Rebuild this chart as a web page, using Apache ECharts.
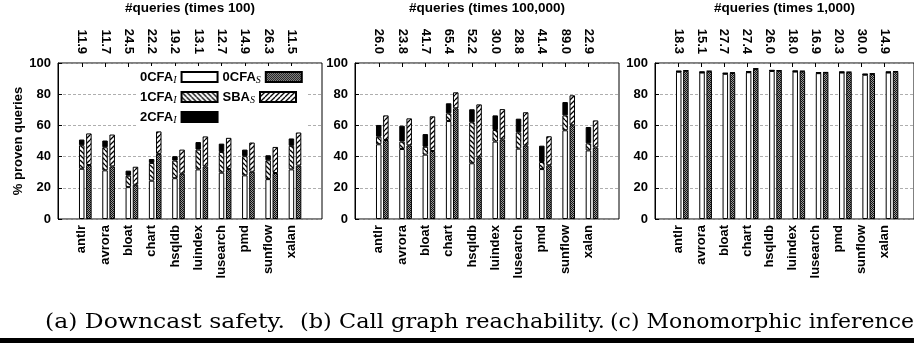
<!DOCTYPE html>
<html><head><meta charset="utf-8">
<script src="https://cdn.jsdelivr.net/npm/echarts@6/dist/echarts.min.js"></script>
<style>html,body{margin:0;padding:0;background:#fff}#c{width:914px;height:343px}</style>
</head><body><div id="c"></div>
<script>
const categories = ['antlr','avrora','bloat','chart','hsqldb','luindex','lusearch','pmd','sunflow','xalan'];
const queriesA = ['11.9','11.7','24.5','22.2','19.2','13.1','12.7','14.9','26.3','11.5'];
const queriesB = ['26.0','23.8','41.7','65.4','52.2','30.0','28.8','41.4','89.0','22.9'];
const queriesC = ['18.3','15.1','27.7','27.4','26.0','18.0','16.9','20.3','30.0','14.9'];
const seriesNames = ['0CFA_I','1CFA_I','2CFA_I','0CFA_S','SBA_S'];
const legendOrder = ['0CFA_I','0CFA_S','1CFA_I','SBA_S','2CFA_I'];

// (a) Downcast safety (stack increments)
const a_0CFA_I = [32.0, 31.0, 20.3, 24.4, 26.0, 31.6, 29.5, 27.8, 25.4, 31.6];
const a_1CFA_I = [15.0, 14.7, 7.3, 11.3, 11.2, 12.6, 13.2, 12.2, 12.0, 15.0];
const a_2CFA_I = [3.6, 4.3, 3.2, 2.5, 2.8, 4.8, 5.3, 4.2, 3.2, 4.7];
const a_0CFA_S = [34.4, 33.5, 21.8, 41.5, 28.8, 33.5, 31.8, 30.1, 29.3, 34.0];
const a_SBA_S  = [20.1, 20.3, 11.5, 14.3, 15.4, 19.1, 19.9, 18.6, 16.6, 21.1];
// (b) Call graph reachability
const b_0CFA_I = [47.6, 44.6, 41.0, 62.4, 35.5, 49.3, 44.8, 31.8, 56.5, 43.7];
const b_1CFA_I = [4.8, 4.7, 5.0, 4.9, 26.1, 7.4, 10.4, 4.5, 9.5, 4.5];
const b_2CFA_I = [7.5, 10.1, 8.1, 6.4, 8.3, 9.3, 8.7, 10.4, 8.5, 10.4];
const b_0CFA_S = [50.3, 46.9, 43.3, 70.5, 39.3, 50.7, 46.9, 34.2, 59.7, 45.6];
const b_SBA_S  = [15.7, 17.2, 22.1, 10.2, 33.7, 19.3, 21.1, 18.5, 19.1, 17.2];
// (c) Monomorphic inference
const c_0CFA_I = [93.8, 93.3, 92.5, 93.5, 94.3, 93.9, 92.9, 93.3, 91.9, 93.3];
const c_1CFA_I = [0.2, 0.2, 0.2, 0.2, 0.2, 0.2, 0.2, 0.2, 0.2, 0.2];
const c_2CFA_I = [0.3, 0.3, 0.3, 0.3, 0.3, 0.3, 0.3, 0.3, 0.3, 0.3];
const c_0CFA_S = [94.4, 94.0, 93.0, 95.6, 94.4, 94.0, 93.2, 93.4, 92.4, 93.8];
const c_SBA_S  = [0.3, 0.3, 0.3, 0.3, 0.3, 0.3, 0.3, 0.3, 0.3, 0.3];

const panelTitles = ['#queries (times 100)', '#queries (times 100,000)', '#queries (times 1,000)'];
const captions = ['(a) Downcast safety.', '(b) Call graph reachability.', '(c) Monomorphic inference'];

const FONT = '"Liberation Sans", Arial, sans-serif';
const SERIF = '"DejaVu Serif", serif';

function hatch(dir) {
  const s = 5, c = document.createElement('canvas');
  c.width = c.height = s;
  const g = c.getContext('2d');
  g.fillStyle = '#fff'; g.fillRect(0, 0, s, s);
  g.strokeStyle = '#000'; g.lineWidth = 1.3; g.beginPath();
  for (let k = -1; k <= 1; k++) {
    if (dir > 0) { g.moveTo(k * s, s); g.lineTo(k * s + s, 0); }
    else { g.moveTo(k * s, 0); g.lineTo(k * s + s, s); }
  }
  g.stroke();
  return { image: c, repeat: 'repeat' };
}
function checker() {
  const c = document.createElement('canvas');
  c.width = c.height = 2;
  const g = c.getContext('2d');
  g.fillStyle = '#999'; g.fillRect(0, 0, 2, 2);
  g.fillStyle = '#111'; g.fillRect(0, 0, 1, 1); g.fillRect(1, 1, 1, 1);
  return { image: c, repeat: 'repeat' };
}
const fills = {
  '0CFA_I': '#fff',
  '1CFA_I': hatch(-1),
  '2CFA_I': '#000',
  '0CFA_S': checker(),
  'SBA_S': hatch(1)
};

const panels = [
  { left: 58,  q: queriesA, d: [a_0CFA_I, a_1CFA_I, a_2CFA_I, a_0CFA_S, a_SBA_S], yName: '% proven queries' },
  { left: 355, q: queriesB, d: [b_0CFA_I, b_1CFA_I, b_2CFA_I, b_0CFA_S, b_SBA_S], yName: '' },
  { left: 655, q: queriesC, d: [c_0CFA_I, c_1CFA_I, c_2CFA_I, c_0CFA_S, c_SBA_S], yName: '' }
];
const STEP = 23.3, FIRST = 27.3;        // px per benchmark, offset of first cluster centre
const XMIN = -FIRST / STEP, XMAX = XMIN + 264 / STEP, OFF = -0.15;
const tickVals = categories.map((_, i) => i + OFF);
const idx = v => Math.round(v - OFF);

const grid = [], xAxis = [], yAxis = [], series = [];
panels.forEach((p, k) => {
  grid.push({ left: p.left, top: 62, width: 264, height: 157, show: true, borderColor: '#000', borderWidth: 1 });
  grid.push({ left: p.left + FIRST - STEP / 2, top: 62, width: STEP * categories.length, height: 157 });
  const gF = 2 * k, gB = 2 * k + 1;
  xAxis.push({
    type: 'value', gridIndex: gF, position: 'bottom', min: XMIN, max: XMAX,
    axisLine: { show: false, onZero: false }, splitLine: { show: false },
    axisTick: { show: false },
    axisLabel: { customValues: tickVals, rotate: 90, margin: 6, color: '#000', fontFamily: FONT, fontWeight: 'bold', fontSize: 13,
      formatter: v => categories[idx(v)] || '' }
  });
  xAxis.push({
    type: 'value', gridIndex: gF, position: 'top', min: XMIN, max: XMAX,
    name: panelTitles[k], nameLocation: 'middle', nameGap: 48,
    nameTextStyle: { color: '#000', fontFamily: FONT, fontWeight: 'bold', fontSize: 13.5 },
    axisLine: { show: false, onZero: false }, splitLine: { show: false },
    axisTick: { show: true, inside: true, length: 4, customValues: tickVals, lineStyle: { color: '#000' } },
    axisLabel: { customValues: tickVals, rotate: 90, margin: 9, color: '#000', fontFamily: FONT, fontWeight: 'bold', fontSize: 13,
      formatter: v => p.q[idx(v)] || '' }
  });
  xAxis.push({
    type: 'category', gridIndex: gB, data: categories, boundaryGap: true,
    axisLine: { show: false }, axisTick: { show: false }, axisLabel: { show: false }, splitLine: { show: false }
  });
  yAxis.push({
    type: 'value', gridIndex: gF, min: 0, max: 100, interval: 20, position: 'left',
    name: p.yName, nameLocation: 'middle', nameGap: 33,
    nameTextStyle: { color: '#000', fontFamily: FONT, fontWeight: 'bold', fontSize: 13 },
    axisLine: { show: true, onZero: false, lineStyle: { color: '#000' } },
    axisTick: { show: true, inside: true, length: 4, lineStyle: { color: '#000' } },
    axisLabel: { color: '#000', fontFamily: FONT, fontWeight: 'bold', fontSize: 13, margin: 7 },
    splitLine: { show: true, lineStyle: { color: '#999', type: [3, 2], width: 0.8 } }
  });
  yAxis.push({
    type: 'value', gridIndex: gB, min: 0, max: 100, show: false, splitLine: { show: false }
  });
  seriesNames.forEach((name, j) => {
    series.push({
      type: 'bar', name, xAxisIndex: 3 * k + 2, yAxisIndex: 2 * k + 1,
      stack: 'p' + k + (j < 3 ? 'L' : 'R'),
      barWidth: 5.5, barGap: '30%',
      itemStyle: { color: fills[name], borderColor: '#000', borderWidth: 1 },
      emphasis: { disabled: true },
      data: p.d[j]
    });
  });
});

const subLabel = n => { const [b, s] = n.split('_'); return '{b|' + b + '}{s|' + s + '}'; };

const capLeft = [45, 300, 610], capWidth = [240, 305, 304];
const mctx = document.createElement('canvas').getContext('2d');
mctx.font = '20px "DejaVu Serif"';
const graphic = captions.map((t, k) => {
  const w = mctx.measureText(t).width || 1;
  return {
    type: 'text', x: capLeft[k], y: 313, scaleX: capWidth[k] / w,
    style: { text: t, font: '20px ' + SERIF, fill: '#000', textAlign: 'left', textVerticalAlign: 'top' }
  };
});
graphic.push({ type: 'rect', left: 0, top: 338, shape: { width: 914, height: 5 }, style: { fill: '#000' } });

const chart = echarts.init(document.getElementById('c'), null, { renderer: 'canvas' });
chart.setOption({
  animation: false,
  backgroundColor: '#fff',
  grid, xAxis, yAxis, series, graphic,
  legend: {
    data: legendOrder, left: 138, top: 66, width: 184, orient: 'horizontal',
    icon: 'rect', itemWidth: 36, itemHeight: 10, itemGap: 4, align: 'right',
    backgroundColor: '#fff', padding: [3, 4, 3, 2], selectedMode: false,
    formatter: subLabel,
    textStyle: {
      width: 48, align: 'right', color: '#000',
      rich: {
        b: { fontFamily: FONT, fontWeight: 'bold', fontSize: 13, color: '#000', lineHeight: 21 },
        s: { fontFamily: '"Liberation Serif", serif', fontStyle: 'italic', fontSize: 10, color: '#000', lineHeight: 21, padding: [6, 0, 0, 0] }
      }
    }
  }
});
</script></body></html>
